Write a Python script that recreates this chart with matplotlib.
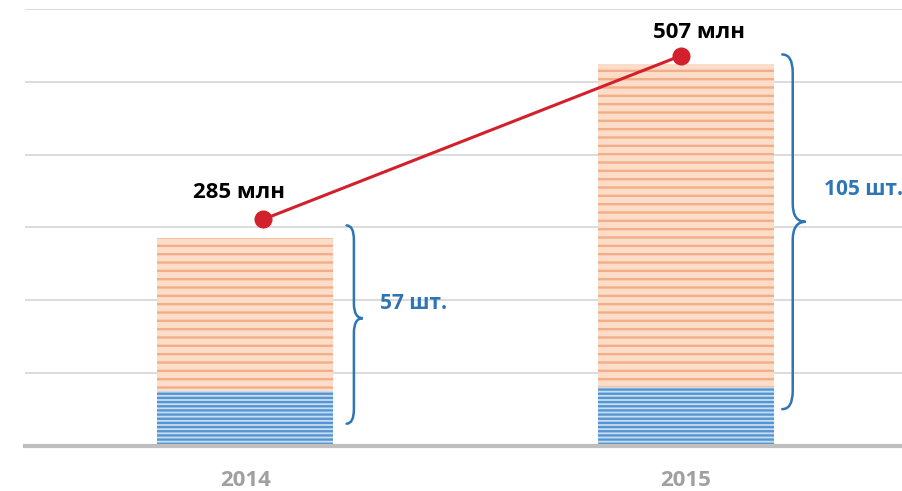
import matplotlib.pyplot as plt
import numpy as np
from matplotlib.path import Path
from matplotlib.patches import PathPatch

plt.rcParams["font.family"] = ["Open Sans", "DejaVu Sans"]
plt.rcParams["hatch.linewidth"] = 1.7

years = ["2014", "2015"]
part_low = [15, 16]     # blue part, шт.
part_high = [42, 89]    # orange part, шт.
totals = [57, 105]
money = [285, 507]      # млн
money_labels = ["285 млн", "507 млн"]
count_labels = ["57 шт.", "105 шт."]

BLUE_FILL, BLUE_LINE = "#C9DDF1", "#5596D2"
ORANGE_FILL, ORANGE_LINE = "#FBDDCA", "#F2AE86"
RED = "#D2202C"
TEXT_BLUE = "#2E75B6"


def draw_brace(ax, x0, width, lo, hi, mid, r, color):
    xm = x0 + width * 0.45
    x1 = x0 + width
    verts = [
        (x0, hi), (xm, hi), (xm, hi - r),
        (xm, mid + r),
        (xm, mid), (x1, mid),
        (xm, mid), (xm, mid - r),
        (xm, lo + r),
        (xm, lo), (x0, lo),
    ]
    codes = [
        Path.MOVETO, Path.CURVE3, Path.CURVE3,
        Path.LINETO,
        Path.CURVE3, Path.CURVE3,
        Path.CURVE3, Path.CURVE3,
        Path.LINETO,
        Path.CURVE3, Path.CURVE3,
    ]
    ax.add_patch(PathPatch(Path(verts, codes), fill=False, edgecolor=color, lw=1.8,
                           capstyle="round", zorder=4))


fig = plt.figure(figsize=(9.03, 4.91), dpi=100)
ax = fig.add_axes([25 / 903, 1 - 445.5 / 491, 881 / 903, (445.5 - 9) / 491])

x = np.arange(len(years))
ax.bar(x, part_low, width=0.4, color=BLUE_FILL, edgecolor=BLUE_LINE, hatch="----",
       linewidth=0, zorder=2)
ax.bar(x, part_high, width=0.4, bottom=part_low, color=ORANGE_FILL,
       edgecolor=ORANGE_LINE, hatch="--", linewidth=0, zorder=2)

# money line on a second axis
ax2 = ax.twinx()
ax2.set_ylim(-21, 570)
ax2.axis("off")

ax.set_xlim(-0.5, 1.5)
ax.set_ylim(0, 120)
ax.set_yticks(np.arange(0, 121, 20))
ax.yaxis.grid(True, color="#D9D9D9", lw=1.3)
ax.set_axisbelow(True)
ax.tick_params(axis="y", left=False, right=False, labelleft=False, labelright=False)
ax.tick_params(axis="x", bottom=False, pad=14)
ax.set_xticks(x)
ax.set_xticklabels(years, fontsize=16, fontweight="bold", color="#A0A0A0")
for s in ["top", "right", "left"]:
    ax.spines[s].set_visible(False)
ax.spines["bottom"].set_color("#BFBFBF")
ax.spines["bottom"].set_linewidth(3)
ax.spines["bottom"].set_zorder(5)

# braces with counts
brace_x = [0.23, 1.219]
brace_w = [0.037, 0.053]
brace_lo = [6, 10]
brace_hi = [60.5, 107.5]
brace_mid = [35, 61.5]
label_dx = [0.075, 0.094]
label_dy = [4, 9]
for i in range(len(years)):
    draw_brace(ax, brace_x[i], brace_w[i], brace_lo[i], brace_hi[i], brace_mid[i],
               4.0 + i, TEXT_BLUE)
    ax.text(brace_x[i] + label_dx[i], brace_mid[i] + label_dy[i], count_labels[i],
            fontsize=15, fontweight="bold", color=TEXT_BLUE, va="center", ha="left")

line_x = x + np.array([0.04, -0.01])
ax2.plot(line_x, money, color=RED, lw=2.2, marker="o", markersize=12, zorder=6)
offsets = [(-17, 12), (13, 9)]
for i in range(len(years)):
    ax2.annotate(money_labels[i], (line_x[i], money[i]), xytext=offsets[i],
                 textcoords="offset points", ha="center", va="bottom",
                 fontsize=16, fontweight="bold", color="black")

fig.savefig("out.png", dpi=100)
